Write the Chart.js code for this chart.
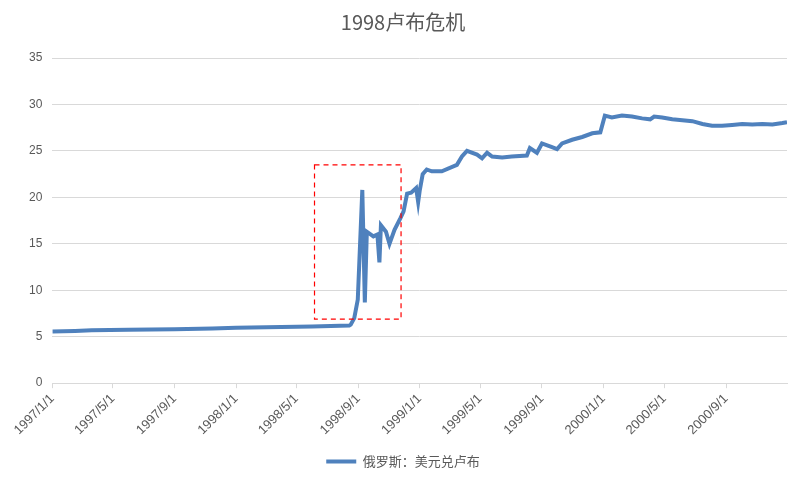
<!DOCTYPE html>
<html><head><meta charset="utf-8">
<script src="https://cdn.jsdelivr.net/npm/chart.js@4"></script>
<style>body{margin:0;background:#fff}#box{width:811px;height:486px}</style>
</head><body><div id="box"><canvas id="c"></canvas></div>
<script>
// 日期与汇率（美元兑卢布）
const dates = ['1997/1/1','1997/2/15','1997/3/20','1997/6/1','1997/9/1','1997/11/15','1998/1/1','1998/4/1','1998/6/1','1998/8/14',
  '1998/8/17','1998/8/24','1998/8/31','1998/9/9','1998/9/14','1998/9/18','1998/10/1','1998/10/9','1998/10/13','1998/10/16',
  '1998/10/26','1998/11/2','1998/11/12','1998/11/24','1998/11/30','1998/12/7','1998/12/15','1998/12/25','1998/12/29','1999/1/1',
  '1999/1/7','1999/1/15','1999/1/25','1999/2/14','1999/3/16','1999/3/26','1999/4/5','1999/4/25','1999/5/5','1999/5/15',
  '1999/5/25','1999/6/14','1999/7/3','1999/8/2','1999/8/8','1999/8/22','1999/9/1','1999/9/21','1999/10/1','1999/10/11',
  '1999/10/31','1999/11/20','1999/12/10','1999/12/26','2000/1/4','2000/1/18','2000/2/7','2000/2/27','2000/3/18','2000/4/3',
  '2000/4/11','2000/4/27','2000/5/17','2000/6/6','2000/6/26','2000/7/16','2000/8/4','2000/8/24','2000/9/13','2000/10/3',
  '2000/10/23','2000/11/12','2000/12/2','2000/12/22','2000/12/31'];
const rates = [5.56,5.62,5.7,5.75,5.8,5.88,5.96,6.05,6.1,6.2,
  6.3,7.0,9.0,20.8,8.7,16.3,15.8,16.0,13.0,17.0,
  16.3,15.0,16.5,17.8,18.5,20.4,20.5,21.0,19.5,20.7,
  22.5,23.0,22.8,22.8,23.5,24.4,25.0,24.6,24.2,24.8,
  24.4,24.3,24.4,24.5,25.3,24.8,25.8,25.4,25.2,25.8,
  26.2,26.5,26.9,27.0,28.8,28.6,28.8,28.7,28.5,28.4,
  28.7,28.6,28.4,28.3,28.2,27.9,27.7,27.7,27.8,27.9,
  27.85,27.9,27.85,28.0,28.1];
const yTicks = [0,5,10,15,20,25,30,35];
const tickDates = ['1997/1/1','1997/5/1','1997/9/1','1998/1/1','1998/5/1','1998/9/1','1999/1/1','1999/5/1','1999/9/1','2000/1/1','2000/5/1','2000/9/1'];
// 红色虚线框（危机区间）
const crisisBox = {from: '1998/6/6', to: '1998/11/25', low: 6.9, high: 23.5};

const t0 = Date.UTC(1997, 0, 1);
function toDay(s) {
    const p = s.split('/').map(Number);
    return (Date.UTC(p[0], p[1] - 1, p[2]) - t0) / 86400000;
}
const dayLabel = {};
tickDates.forEach(d => dayLabel[toDay(d)] = d);

const boxPlugin = {
    id: 'crisisBox',
    afterDatasetsDraw(chart) {
        const {ctx, scales: {x, y}} = chart;
        const x1 = x.getPixelForValue(toDay(crisisBox.from)), x2 = x.getPixelForValue(toDay(crisisBox.to));
        const y1 = y.getPixelForValue(crisisBox.high), y2 = y.getPixelForValue(crisisBox.low);
        ctx.save();
        ctx.strokeStyle = '#FF0000';
        ctx.lineWidth = 1.2;
        ctx.setLineDash([5, 4]);
        ctx.strokeRect(x1, y1, x2 - x1, y2 - y1);
        ctx.restore();
    }
};

new Chart(document.getElementById('c'), {
    type: 'line',
    data: {
        datasets: [{
            label: '俄罗斯：美元兑卢布',
            data: dates.map((d, i) => ({x: toDay(d), y: rates[i]})),
            borderColor: '#4F81BD',
            backgroundColor: '#4F81BD',
            borderWidth: 4,
            pointRadius: 0,
            tension: 0
        }]
    },
    options: {
        responsive: true,
        maintainAspectRatio: false,
        animation: false,
        layout: {padding: {left: 19, right: 24, top: 4, bottom: 8}},
        plugins: {
            title: {display: true, text: '1998卢布危机', color: '#595959',
                font: {size: 20, family: 'Noto Sans CJK SC', weight: 'normal'}, padding: {top: 6, bottom: 24}},
            legend: {position: 'bottom', labels: {color: '#595959', boxWidth: 30, boxHeight: 0, padding: 14,
                font: {size: 13, family: 'Noto Sans CJK SC'}}},
            tooltip: {enabled: false}
        },
        scales: {
            x: {
                type: 'linear',
                min: 0, max: toDay('2000/12/31'),
                afterBuildTicks: s => { s.ticks = tickDates.map(d => ({value: toDay(d)})); },
                ticks: {autoSkip: false, minRotation: 45, maxRotation: 45, color: '#595959',
                    font: {size: 13, family: 'Liberation Sans'}, callback: v => dayLabel[v] || ''},
                grid: {drawOnChartArea: false, drawTicks: true, tickLength: 5, color: '#D9D9D9'},
                border: {color: '#D9D9D9'}
            },
            y: {
                min: 0, max: 35,
                afterBuildTicks: s => { s.ticks = yTicks.map(v => ({value: v})); },
                ticks: {color: '#595959', font: {size: 12, family: 'Liberation Sans'}, padding: 10},
                grid: {color: '#D9D9D9', drawTicks: false},
                border: {display: false}
            }
        }
    },
    plugins: [boxPlugin]
});
</script></body></html>
